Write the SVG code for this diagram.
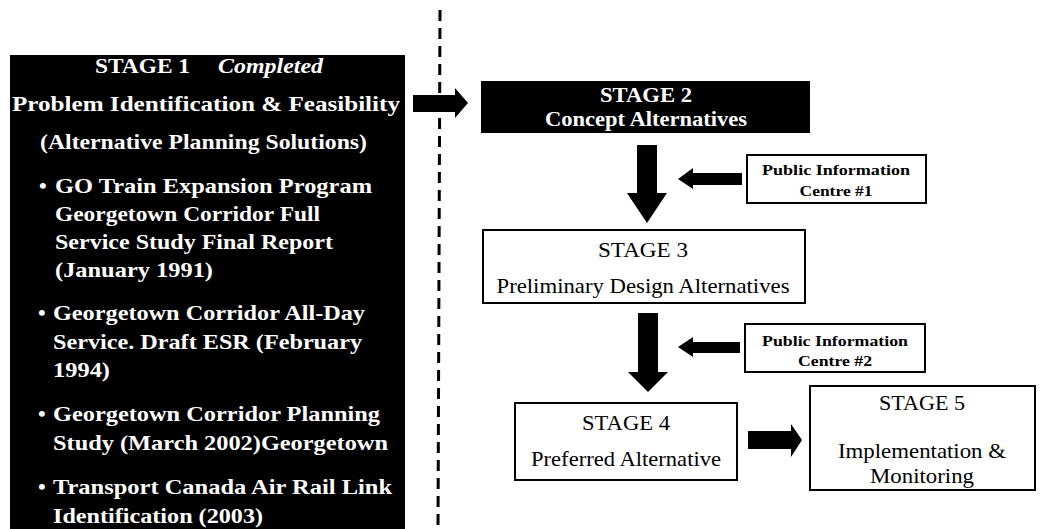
<svg xmlns="http://www.w3.org/2000/svg" width="1050" height="529" viewBox="0 0 1050 529">
<style>
.bg{fill:#fff}
.blk{fill:#000}
.wbox{fill:#fff;stroke:#000;stroke-width:2}
text{font-family:"Liberation Serif","Times New Roman",Times,"DejaVu Serif","Noto Serif",serif}
.wt{fill:#fff;font-weight:bold;font-size:22px}
.wtc{fill:#fff;font-weight:bold;font-size:21px;text-anchor:middle}
.bt{fill:#000;font-size:21px;text-anchor:middle}
.pt{fill:#000;font-weight:bold;font-size:15px;text-anchor:middle}
.dash{stroke:#000;stroke-width:3;stroke-dasharray:11 7;fill:none}
</style>
<rect class="bg" x="0" y="0" width="1050" height="529"/>
<g id="stage1">
<rect class="blk" x="10" y="55" width="395" height="474"/>
<text class="wt" x="95" y="73" textLength="95" lengthAdjust="spacingAndGlyphs">STAGE 1</text>
<text class="wt" x="218" y="73" font-style="italic" textLength="105" lengthAdjust="spacingAndGlyphs">Completed</text>
<text class="wt" x="12" y="111" textLength="388" lengthAdjust="spacingAndGlyphs">Problem Identification &amp; Feasibility</text>
<text class="wt" x="40" y="149" textLength="327" lengthAdjust="spacingAndGlyphs">(Alternative Planning Solutions)</text>
<text class="wt" x="39" y="193">•</text>
<text class="wt" x="55" y="193" textLength="317" lengthAdjust="spacingAndGlyphs">GO Train Expansion Program</text>
<text class="wt" x="55" y="221" textLength="265" lengthAdjust="spacingAndGlyphs">Georgetown Corridor Full</text>
<text class="wt" x="55" y="249" textLength="278" lengthAdjust="spacingAndGlyphs">Service Study Final Report</text>
<text class="wt" x="55" y="277" textLength="158" lengthAdjust="spacingAndGlyphs">(January 1991)</text>
<text class="wt" x="38" y="320">•</text>
<text class="wt" x="53" y="320" textLength="312" lengthAdjust="spacingAndGlyphs">Georgetown Corridor All-Day</text>
<text class="wt" x="53" y="349" textLength="309" lengthAdjust="spacingAndGlyphs">Service. Draft ESR (February</text>
<text class="wt" x="53" y="377" textLength="57" lengthAdjust="spacingAndGlyphs">1994)</text>
<text class="wt" x="38" y="421">•</text>
<text class="wt" x="53" y="421" textLength="327" lengthAdjust="spacingAndGlyphs">Georgetown Corridor Planning</text>
<text class="wt" x="53" y="450" textLength="335" lengthAdjust="spacingAndGlyphs">Study (March 2002)Georgetown</text>
<text class="wt" x="38" y="494">•</text>
<text class="wt" x="53" y="494" textLength="339" lengthAdjust="spacingAndGlyphs">Transport Canada Air Rail Link</text>
<text class="wt" x="53" y="523" textLength="210" lengthAdjust="spacingAndGlyphs">Identification (2003)</text>
</g>
<g id="stage2">
<rect class="blk" x="481" y="81" width="329" height="52"/>
<text class="wtc" x="646" y="102" textLength="92" lengthAdjust="spacingAndGlyphs">STAGE 2</text>
<text class="wtc" x="646" y="126" textLength="202" lengthAdjust="spacingAndGlyphs">Concept Alternatives</text>
</g>
<g id="stage3">
<rect class="wbox" x="483" y="230" width="322" height="73"/>
<text class="bt" x="643" y="257" textLength="90" lengthAdjust="spacingAndGlyphs">STAGE 3</text>
<text class="bt" x="643" y="293" textLength="293" lengthAdjust="spacingAndGlyphs">Preliminary Design Alternatives</text>
</g>
<g id="pic1">
<rect class="wbox" x="747" y="155" width="179" height="48"/>
<text class="pt" x="836" y="175" textLength="148" lengthAdjust="spacingAndGlyphs">Public Information</text>
<text class="pt" x="836" y="196" textLength="73" lengthAdjust="spacingAndGlyphs">Centre #1</text>
</g>
<g id="pic2">
<rect class="wbox" x="745" y="324" width="180" height="48"/>
<text class="pt" x="835" y="346" textLength="146" lengthAdjust="spacingAndGlyphs">Public Information</text>
<text class="pt" x="835" y="366" textLength="74" lengthAdjust="spacingAndGlyphs">Centre #2</text>
</g>
<g id="stage4">
<rect class="wbox" x="515" y="403" width="222" height="77"/>
<text class="bt" x="626" y="430" textLength="88" lengthAdjust="spacingAndGlyphs">STAGE 4</text>
<text class="bt" x="626" y="466" textLength="190" lengthAdjust="spacingAndGlyphs">Preferred Alternative</text>
</g>
<g id="stage5">
<rect class="wbox" x="810" y="386" width="225" height="104"/>
<text class="bt" x="922" y="410" textLength="86" lengthAdjust="spacingAndGlyphs">STAGE 5</text>
<text class="bt" x="922" y="458" textLength="168" lengthAdjust="spacingAndGlyphs">Implementation &amp;</text>
<text class="bt" x="922" y="483" textLength="104" lengthAdjust="spacingAndGlyphs">Monitoring</text>
</g>
<g id="connectors">
<line class="dash" x1="440" y1="10" x2="438" y2="529"/>
<polygon class="blk" points="413,95 455,95 455,88 468,103 455,118 455,112 413,112"/>
<polygon class="blk" points="637,145 657,145 657,193 667,193 647,223 627,193 637,193"/>
<polygon class="blk" points="742,173 693,173 693,168 678,179 693,189 693,185 742,185"/>
<polygon class="blk" points="638,313 658,313 658,372 668,372 648,392 628,372 638,372"/>
<polygon class="blk" points="740,342 693,342 693,337 678,347 693,357 693,353 740,353"/>
<polygon class="blk" points="748,431 791,431 791,424 802,440 791,457 791,449 748,449"/>
</g>
</svg>
